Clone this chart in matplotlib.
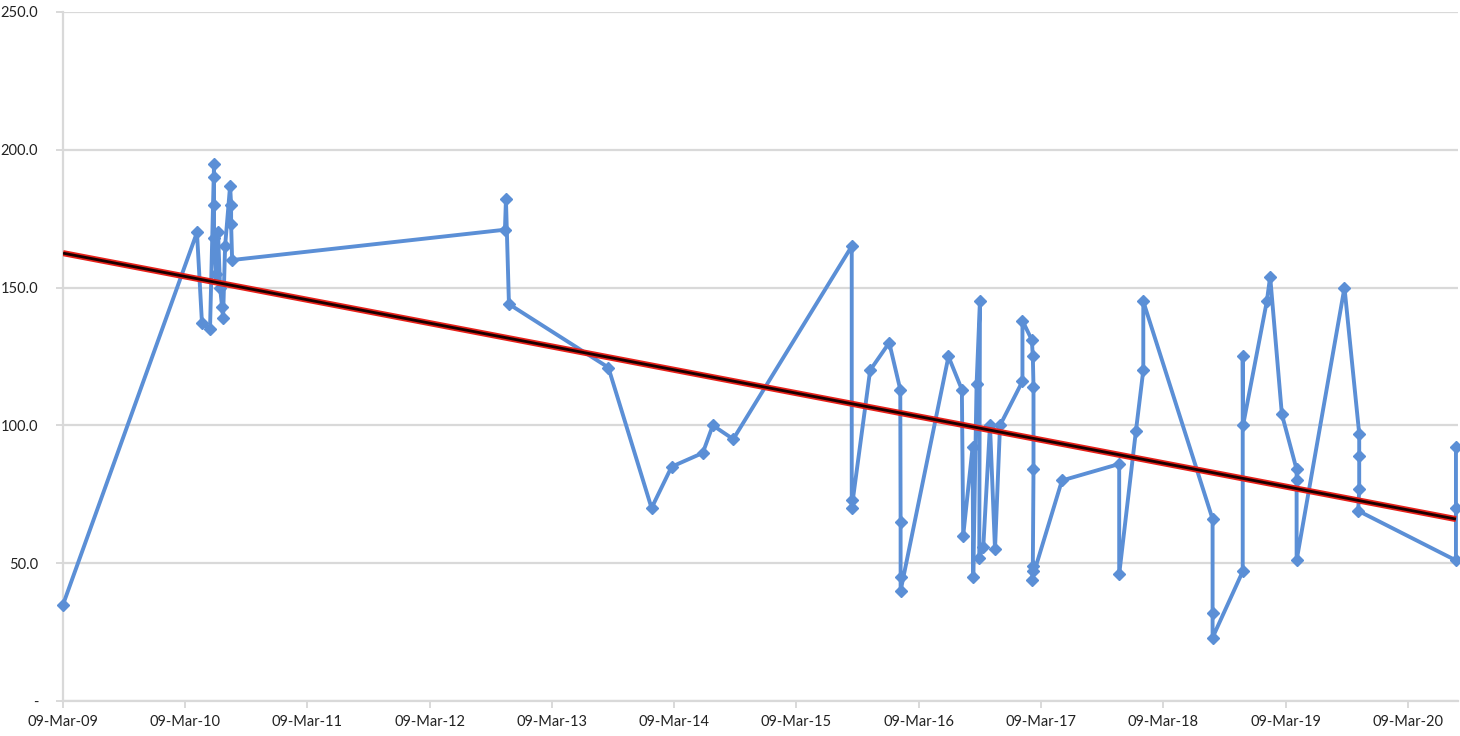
import matplotlib
matplotlib.use("Agg")
import matplotlib.pyplot as plt
import matplotlib.dates as mdates
from matplotlib.ticker import FuncFormatter
import numpy as np

# readings (date, value) taken off the reference chart
dates = [
    "2009-03-09", "2010-04-13", "2010-04-28", "2010-05-22", "2010-06-03",
    "2010-06-03", "2010-06-03", "2010-06-03", "2010-06-09", "2010-06-15",
    "2010-06-21", "2010-06-27", "2010-06-30", "2010-07-06", "2010-07-21",
    "2010-07-24", "2010-07-24", "2010-07-27", "2012-10-19", "2012-10-22",
    "2012-10-31", "2013-08-24", "2013-12-31", "2014-03-01", "2014-06-02",
    "2014-07-02", "2014-09-01", "2015-08-21", "2015-08-21", "2015-08-21",
    "2015-10-15", "2015-12-11", "2016-01-13", "2016-01-14", "2016-01-14",
    "2016-01-14", "2016-06-05", "2016-07-15", "2016-07-19", "2016-08-16",
    "2016-08-18", "2016-08-28", "2016-09-07", "2016-09-05", "2016-09-17",
    "2016-10-07", "2016-10-22", "2016-11-06", "2017-01-12", "2017-01-12",
    "2017-02-09", "2017-02-12", "2017-02-14", "2017-02-14", "2017-02-12",
    "2017-02-12", "2017-02-09", "2017-05-10", "2017-10-28", "2017-10-28",
    "2017-12-17", "2018-01-08", "2018-01-08", "2018-08-03", "2018-08-03",
    "2018-08-03", "2018-11-01", "2018-11-01", "2018-11-02", "2019-01-12",
    "2019-01-22", "2019-02-26", "2019-04-11", "2019-04-11", "2019-04-11",
    "2019-09-01", "2019-10-15", "2019-10-15", "2019-10-15", "2019-10-12",
    "2020-07-30", "2020-07-30", "2020-07-30",
]
values = [
    35, 170, 137, 135, 195,
    190, 180, 168, 155, 170,
    150, 143, 139, 165, 187,
    180, 173, 160, 171, 182,
    144, 121, 70, 85, 90,
    100, 95, 165, 73, 70,
    120, 130, 113, 65, 45,
    40, 125, 113, 60, 92,
    45, 115, 145, 52, 56,
    100, 55, 100, 116, 138,
    131, 125, 114, 84, 49,
    47, 44, 80, 86, 46,
    98, 120, 145, 66, 32,
    23, 47, 125, 100, 145,
    154, 104, 84, 80, 51,
    150, 97, 89, 77, 69,
    51, 70, 92,
]

# linear trendline, read at both ends
trend_dates = ["2009-03-09", "2020-07-30"]
trend_values = [162.5, 66.0]

tick_years = list(range(2009, 2021))
y_ticks = [0, 50, 100, 150, 200, 250]

x = np.array(dates, dtype="datetime64[D]")
tx = np.array(trend_dates, dtype="datetime64[D]")

fig = plt.figure(figsize=(14.6, 7.36), dpi=100)
ax = fig.add_axes([0.0432, 0.0476, 0.9554, 0.9361])

grid_col = "#d9d9d9"
blue = "#5b8fd6"

ax.plot(x, values, color=blue, lw=2.8, marker="D", ms=6,
        mec=blue, mfc=blue, zorder=3, clip_on=False)
ax.plot(tx, trend_values, color="#e8211a", lw=4.4, solid_capstyle="butt", zorder=4)
ax.plot(tx, trend_values, color="#1a0000", lw=2.0, solid_capstyle="butt", zorder=5)

ax.set_ylim(0, 250)
ax.set_xlim(np.datetime64("2009-03-09"), np.datetime64("2020-08-05"))
ax.set_yticks(y_ticks)
ax.yaxis.set_major_formatter(FuncFormatter(lambda v, p: "-" if v == 0 else f"{v:.1f}"))
ax.set_xticks([np.datetime64(f"{y}-03-09") for y in tick_years])
ax.xaxis.set_major_formatter(mdates.DateFormatter("%d-%b-%y"))

ax.grid(axis="y", color=grid_col, lw=1.6)
ax.set_axisbelow(True)
for s in ("top", "right"):
    ax.spines[s].set_visible(False)
for s in ("left", "bottom"):
    ax.spines[s].set_color(grid_col)
    ax.spines[s].set_linewidth(1.6)

ax.tick_params(axis="both", colors=grid_col, length=5, width=1.4,
               labelcolor="#222222", labelsize=10.5)
ax.tick_params(axis="y", pad=13)
ax.tick_params(axis="x", pad=5)
for lbl in ax.get_xticklabels() + ax.get_yticklabels():
    lbl.set_family(["Lato", "DejaVu Sans"])

fig.savefig("out.png", dpi=100)
